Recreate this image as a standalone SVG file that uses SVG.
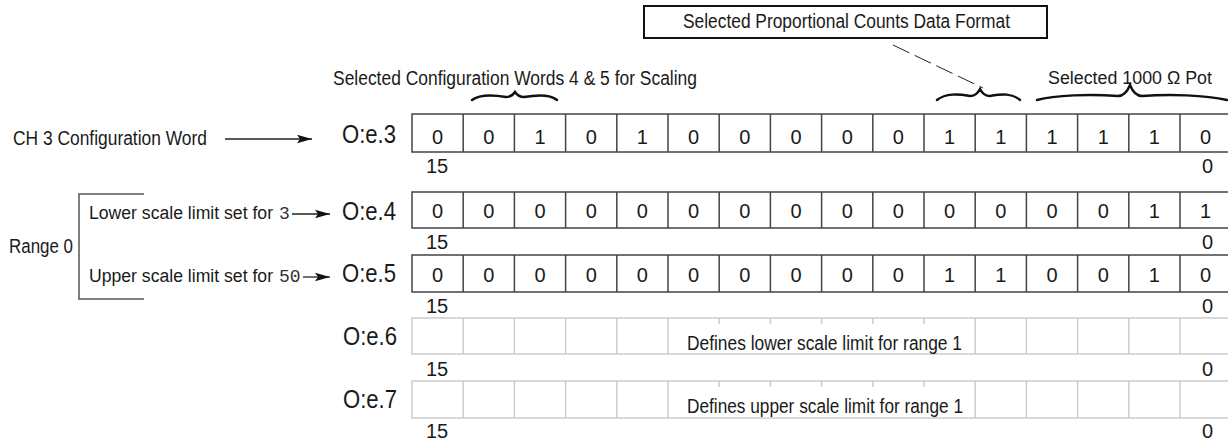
<svg xmlns="http://www.w3.org/2000/svg" width="1228" height="442" viewBox="0 0 1228 442">
<style>
text{font-family:"Liberation Sans",Arial,sans-serif;fill:#1a1a1a;}
.lbl{font-size:20px;}
.sm{font-size:18px;}
.reg{font-size:26px;}
.d{font-size:20px;text-anchor:middle;}
.mono{font-family:"Liberation Mono","DejaVu Sans Mono",monospace;font-size:18px;fill:#333;}
.cell{fill:none;stroke:#444;stroke-width:1.5;}
.cellg{fill:none;stroke:#ccc;stroke-width:1.5;}
.conn{stroke:#222;stroke-width:1.3;fill:none;}
.brace{stroke:#111;stroke-width:2.4;fill:none;stroke-linecap:round;}
.bracket{stroke:#555;stroke-width:1.5;fill:none;}
</style>
<defs>
<marker id="ah" markerUnits="userSpaceOnUse" markerWidth="16" markerHeight="10" refX="15" refY="5" orient="auto">
<path d="M0,0.8 L15,5 L0,9.2 L3,5 Z" fill="#111"/>
</marker>
</defs>

<g id="title-box">
<rect x="644" y="6" width="403" height="32" fill="#fff" stroke="#111" stroke-width="2"/>
<text class="lbl" x="683" y="28" textLength="327" lengthAdjust="spacingAndGlyphs">Selected Proportional Counts Data Format</text>
</g>

<g id="label-scaling">
<text class="lbl" x="333" y="85" textLength="364" lengthAdjust="spacingAndGlyphs">Selected Configuration Words 4 &amp; 5 for Scaling</text>
<path class="brace" d="M472,100 C480,94 494,95 506,97 C511,97 513,95 515,92 C517,95 519,97 524,97 C536,95 550,94 557,100"/>
</g>

<g id="brace-format">
<path class="brace" d="M937,100 C946,93 958,94 970,96 C975,96 978,93 980,89 C982,93 985,96 990,96 C1002,94 1012,93 1020,100"/>
</g>

<g id="label-pot">
<text class="sm" x="1048" y="84" textLength="164" lengthAdjust="spacingAndGlyphs">Selected 1000 Ω Pot</text>
<path class="brace" d="M1037,100 C1055,95 1090,94 1118,96 C1125,96 1128,90 1130,85 C1132,90 1135,96 1142,96 C1170,94 1205,95 1227,100"/>
</g>

<g id="label-ch3">
<text class="lbl" x="13" y="145" textLength="194" lengthAdjust="spacingAndGlyphs">CH 3 Configuration Word</text>
</g>

<g id="label-range0">
<text class="lbl" x="9" y="253" textLength="64" lengthAdjust="spacingAndGlyphs">Range 0</text>
<path class="bracket" d="M144,194 H79 V299 H144"/>
</g>

<g id="label-lower">
<text class="sm" x="89" y="219" textLength="184" lengthAdjust="spacingAndGlyphs">Lower scale limit set for</text>
<text class="mono" x="279" y="219">3</text>
</g>

<g id="label-upper">
<text class="sm" x="89" y="282" textLength="184" lengthAdjust="spacingAndGlyphs">Upper scale limit set for</text>
<text class="mono" x="279" y="282">50</text>
</g>

<g id="connectors">
<line class="conn" x1="225" y1="139" x2="312" y2="139" marker-end="url(#ah)"/>
<line class="conn" x1="292" y1="214" x2="330" y2="214" marker-end="url(#ah)"/>
<line class="conn" x1="303" y1="277" x2="330" y2="277" marker-end="url(#ah)"/>
<line x1="893" y1="45" x2="983" y2="88" stroke="#222" stroke-width="1" stroke-dasharray="18,6"/>
</g>

<g id="word-3">
<text class="reg" x="342" y="143" textLength="54" lengthAdjust="spacingAndGlyphs">O:e.3</text>
<rect class="cell" x="412" y="114" width="819.2" height="38"/>
<path class="cell" d="M463.2,114V152M514.4,114V152M565.6,114V152M616.8,114V152M668,114V152M719.2,114V152M770.4,114V152M821.6,114V152M872.8,114V152M924,114V152M975.2,114V152M1026.4,114V152M1077.6,114V152M1128.8,114V152M1180,114V152"/>
<text class="d" x="437.6" y="144">0</text><text class="d" x="488.8" y="144">0</text><text class="d" x="540" y="144">1</text><text class="d" x="591.2" y="144">0</text>
<text class="d" x="642.4" y="144">1</text><text class="d" x="693.6" y="144">0</text><text class="d" x="744.8" y="144">0</text><text class="d" x="796" y="144">0</text>
<text class="d" x="847.2" y="144">0</text><text class="d" x="898.4" y="144">0</text><text class="d" x="949.6" y="144">1</text><text class="d" x="1000.8" y="144">1</text>
<text class="d" x="1052" y="144">1</text><text class="d" x="1103.2" y="144">1</text><text class="d" x="1154.4" y="144">1</text><text class="d" x="1205.6" y="144">0</text>
<text class="lbl" x="426" y="173">15</text>
<text class="lbl" x="1213" y="173" text-anchor="end">0</text>
</g>

<g id="word-4">
<text class="reg" x="342" y="220" textLength="54" lengthAdjust="spacingAndGlyphs">O:e.4</text>
<rect class="cell" x="412" y="192" width="819.2" height="36"/>
<path class="cell" d="M463.2,192V228M514.4,192V228M565.6,192V228M616.8,192V228M668,192V228M719.2,192V228M770.4,192V228M821.6,192V228M872.8,192V228M924,192V228M975.2,192V228M1026.4,192V228M1077.6,192V228M1128.8,192V228M1180,192V228"/>
<text class="d" x="437.6" y="218">0</text><text class="d" x="488.8" y="218">0</text><text class="d" x="540" y="218">0</text><text class="d" x="591.2" y="218">0</text>
<text class="d" x="642.4" y="218">0</text><text class="d" x="693.6" y="218">0</text><text class="d" x="744.8" y="218">0</text><text class="d" x="796" y="218">0</text>
<text class="d" x="847.2" y="218">0</text><text class="d" x="898.4" y="218">0</text><text class="d" x="949.6" y="218">0</text><text class="d" x="1000.8" y="218">0</text>
<text class="d" x="1052" y="218">0</text><text class="d" x="1103.2" y="218">0</text><text class="d" x="1154.4" y="218">1</text><text class="d" x="1205.6" y="218">1</text>
<text class="lbl" x="426" y="249">15</text>
<text class="lbl" x="1213" y="249" text-anchor="end">0</text>
</g>

<g id="word-5">
<text class="reg" x="342" y="282" textLength="54" lengthAdjust="spacingAndGlyphs">O:e.5</text>
<rect class="cell" x="412" y="255" width="819.2" height="37"/>
<path class="cell" d="M463.2,255V292M514.4,255V292M565.6,255V292M616.8,255V292M668,255V292M719.2,255V292M770.4,255V292M821.6,255V292M872.8,255V292M924,255V292M975.2,255V292M1026.4,255V292M1077.6,255V292M1128.8,255V292M1180,255V292"/>
<text class="d" x="437.6" y="282">0</text><text class="d" x="488.8" y="282">0</text><text class="d" x="540" y="282">0</text><text class="d" x="591.2" y="282">0</text>
<text class="d" x="642.4" y="282">0</text><text class="d" x="693.6" y="282">0</text><text class="d" x="744.8" y="282">0</text><text class="d" x="796" y="282">0</text>
<text class="d" x="847.2" y="282">0</text><text class="d" x="898.4" y="282">0</text><text class="d" x="949.6" y="282">1</text><text class="d" x="1000.8" y="282">1</text>
<text class="d" x="1052" y="282">0</text><text class="d" x="1103.2" y="282">0</text><text class="d" x="1154.4" y="282">1</text><text class="d" x="1205.6" y="282">0</text>
<text class="lbl" x="426" y="313">15</text>
<text class="lbl" x="1213" y="313" text-anchor="end">0</text>
</g>

<g id="word-6">
<text class="reg" x="343" y="345" textLength="54" lengthAdjust="spacingAndGlyphs">O:e.6</text>
<rect class="cellg" x="412" y="318" width="819.2" height="36"/>
<path class="cellg" d="M463.2,318V354M514.4,318V354M565.6,318V354M616.8,318V354M668,318V354M719.2,318V324M770.4,318V324M821.6,318V324M872.8,318V324M924,318V324M975.2,318V354M1026.4,318V354M1077.6,318V354M1128.8,318V354M1180,318V354"/>
<text class="lbl" x="687" y="350" textLength="275" lengthAdjust="spacingAndGlyphs">Defines lower scale limit for range 1</text>
<text class="lbl" x="426" y="376">15</text>
<text class="lbl" x="1213" y="376" text-anchor="end">0</text>
</g>

<g id="word-7">
<text class="reg" x="343" y="408" textLength="54" lengthAdjust="spacingAndGlyphs">O:e.7</text>
<rect class="cellg" x="412" y="381" width="819.2" height="37"/>
<path class="cellg" d="M463.2,381V418M514.4,381V418M565.6,381V418M616.8,381V418M668,381V418M719.2,381V387M770.4,381V387M821.6,381V387M872.8,381V387M924,381V387M975.2,381V418M1026.4,381V418M1077.6,381V418M1128.8,381V418M1180,381V418"/>
<text class="lbl" x="687" y="413" textLength="276" lengthAdjust="spacingAndGlyphs">Defines upper scale limit for range 1</text>
<text class="lbl" x="426" y="438">15</text>
<text class="lbl" x="1213" y="438" text-anchor="end">0</text>
</g>
</svg>
